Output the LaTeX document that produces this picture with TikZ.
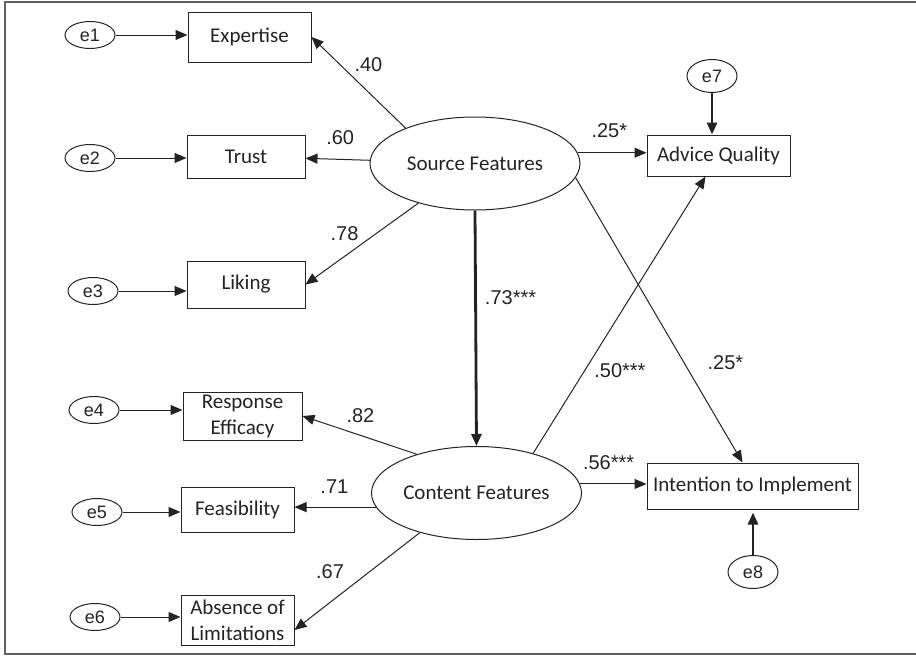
\documentclass[tikz,border=0pt]{standalone}
\usepackage{fontspec}
\setmainfont{Carlito}
\newfontfamily\arialfont{Liberation Sans}
\usepackage{tikz}
\usetikzlibrary{shapes.geometric, arrows.meta, positioning, calc}
\definecolor{colInk}{RGB}{35,35,35}
\definecolor{colFrame}{RGB}{95,95,95}

\begin{document}
\begin{tikzpicture}[
  x=1pt, y=-1pt,
  box/.style={draw=colInk, line width=1pt, minimum width=#1, inner sep=2pt, align=center,
              font=\fontsize{21}{26}\selectfont, text=colInk},
  latent/.style={draw=colInk, line width=1pt, ellipse, minimum width=210pt, minimum height=93pt,
                 inner sep=0pt, font=\fontsize{21}{26}\selectfont, text=colInk},
  err/.style={draw=colInk, line width=1pt, ellipse, minimum width=50pt, minimum height=#1,
              inner sep=0pt, font=\arialfont\fontsize{18}{20}\selectfont, text=colInk},
  err/.default=27pt,
  arr/.style={-{Triangle[length=12pt, width=10pt]}, line width=1pt, colInk},
  tarr/.style={arr, line width=2.8pt},
  coef/.style={font=\arialfont\fontsize{20}{22}\selectfont, inner sep=3pt, text=colInk},
]
\useasboundingbox (0,0) rectangle (916,656);

% ─── FRAME ────────────────────────────────────────────────────────────────────
\draw[colFrame, line width=2pt] (916,2) -- (5,2) -- (5,654) -- (916,654);

% ─── LATENT FACTORS ───────────────────────────────────────────────────────────
\node[latent] (source)  at (475,163.5) {Source Features};
\node[latent] (content) at (476.5,493) {Content Features};

% ─── INDICATORS ───────────────────────────────────────────────────────────────
\node[box=123pt, minimum height=50pt] (expertise)   at (249.5,37)   {Expertise};
\node[box=118pt, minimum height=43pt] (trust)       at (246,156.5)  {Trust};
\node[box=118pt, minimum height=47pt] (liking)      at (246,284.5)  {Liking};
\node[box=119pt, minimum height=48pt] (response)    at (242.5,416)  {Response\\Efficacy};
\node[box=113pt, minimum height=45pt] (feasibility) at (237.5,509.5) {Feasibility};
\node[box=113pt, minimum height=50pt] (absence)     at (237.5,620)  {Absence of\\Limitations};

% ─── OUTCOMES ─────────────────────────────────────────────────────────────────
\node[box=143pt, minimum height=41pt] (advice)    at (718.5,155.5) {Advice Quality};
\node[box=211pt, minimum height=46pt] (intention) at (752.5,486)   {Intention to Implement};

% ─── ERROR TERMS ──────────────────────────────────────────────────────────────
\node[err] (e1) at (90,35)  {e1};
\node[err] (e2) at (90,158) {e2};
\node[err] (e3) at (93,291) {e3};
\node[err] (e4) at (94,410) {e4};
\node[err] (e5) at (97,512) {e5};
\node[err] (e6) at (95,617) {e6};
\node[err=33pt] (e7) at (712,76)  {e7};
\node[err=33pt] (e8) at (753,572) {e8};

\draw[arr] (e1) -- (e1 -| expertise.west);
\draw[arr] (e2) -- (e2 -| trust.west);
\draw[arr] (e3) -- (e3 -| liking.west);
\draw[arr] (e4) -- (e4 -| response.west);
\draw[arr] (e5) -- (e5 -| feasibility.west);
\draw[arr] (e6) -- (e6 -| absence.west);
\draw[tarr] (e7) -- (e7 |- advice.north);
\draw[tarr, shorten >=3pt] (e8) -- (e8 |- intention.south);

% ─── LOADINGS ─────────────────────────────────────────────────────────────────
\draw[arr] (source.153) -- node[coef, pos=0.58, above right] (l40) {.40} (expertise.east);
\draw[arr] (source) -- node[coef, pos=0.46, above=11pt] (l60) {.60} (trust);
\draw[arr] (source.215) -- node[coef, pos=0.5, above left] (l78) {.78} (liking.east);

\draw[arr] (content.147) -- node[coef, pos=0.67, above right=4pt] (l82) {.82} (response.east);
\draw[arr] (content.188) -- node[coef, pos=0.51, above=10pt] (l71) {.71} (content.188 -| feasibility.east);
\draw[arr] (content.215) -- node[coef, pos=0.55, above left=5pt] (l67) {.67} ([yshift=-10pt]absence.east);

% ─── STRUCTURAL PATHS ─────────────────────────────────────────────────────────
\draw[tarr] (source.south) -- node[coef, pos=0.37, right=5pt] (l73) {.73***} (content.north);
\draw[arr] (source.6) -- node[coef, pos=0.46, above=12pt] (l25a) {.25*} (source.6 -| advice.west);
\draw[arr] (source.352) -- node[coef, pos=0.65, right=20pt] (l25b) {.25*} ([xshift=-10pt]intention.north);
\draw[arr] (content.35) -- node[coef, pos=0.3, right=6pt] (l50) {.50***} ([xshift=-13pt]advice.south);
\draw[arr] (content.5) -- node[coef, pos=0.43, above=11pt] (l56) {.56***} (content.5 -| intention.west);

\end{tikzpicture}
\end{document}
